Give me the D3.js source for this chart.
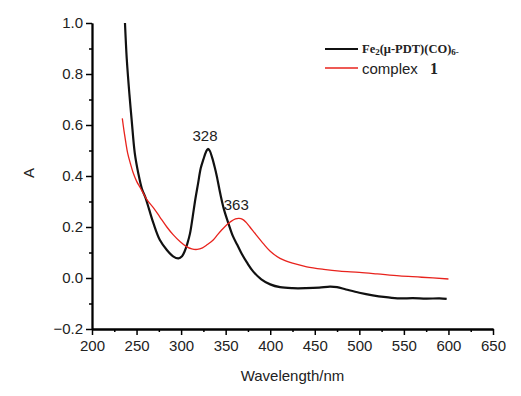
<!DOCTYPE html>
<html>
<head>
<meta charset="utf-8">
<script src="https://cdn.jsdelivr.net/npm/d3@7"></script>
<style>
  html, body { margin: 0; padding: 0; background: #fff; }
  svg { display: block; font-family: "Liberation Sans", Arial, sans-serif; }
</style>
</head>
<body>
<svg id="chart" width="521" height="396"></svg>
<script>
//#region DATA /////////////////////////////////////////////////////////////////

// Fe2(u-PDT)(CO)6 spectrum (black)
const blackWavelengths = [237, 239, 242, 244.5, 248, 252, 256, 260, 264, 269,
  276, 284, 291, 297, 301, 304, 307, 310, 313, 316, 319, 322, 325, 328, 330,
  332, 335, 338, 340, 344, 348, 353, 358, 363, 368, 374, 381, 390, 400, 411,
  425, 440, 455, 467, 475, 485, 500, 515, 530, 545, 560, 575, 590, 598];
const blackAbsorbance = [1.0, 0.86, 0.72, 0.62, 0.49, 0.41, 0.35, 0.315, 0.27,
  0.214, 0.15, 0.11, 0.085, 0.077, 0.085, 0.105, 0.135, 0.175, 0.24, 0.31,
  0.37, 0.43, 0.465, 0.495, 0.506, 0.50, 0.47, 0.43, 0.40, 0.33, 0.27, 0.215,
  0.165, 0.13, 0.095, 0.06, 0.025, -0.005, -0.025, -0.036, -0.040, -0.040,
  -0.038, -0.034, -0.036, -0.045, -0.058, -0.068, -0.075, -0.080, -0.079,
  -0.081, -0.080, -0.082];

// complex 1 spectrum (red)
const redWavelengths = [234, 236, 238, 240, 243, 246, 250, 254, 258, 262, 269,
  276, 284, 291, 299, 306, 312, 318, 324, 329, 336, 341, 346, 351, 356, 361,
  365, 369, 373, 377, 384, 392, 400, 411, 425, 441, 460, 478, 500, 520, 545,
  570, 600];
const redAbsorbance = [0.626, 0.575, 0.53, 0.49, 0.45, 0.415, 0.38, 0.355,
  0.33, 0.305, 0.275, 0.24, 0.20, 0.17, 0.142, 0.123, 0.114, 0.112, 0.118,
  0.13, 0.149, 0.17, 0.19, 0.208, 0.222, 0.232, 0.234, 0.23, 0.218, 0.201,
  0.17, 0.136, 0.105, 0.077, 0.058, 0.044, 0.034, 0.027, 0.022, 0.016, 0.008,
  0.003, -0.004];

// tick labels and annotations
const xTicks = [200, 250, 300, 350, 400, 450, 500, 550, 600, 650];
const yTicks = [-0.2, 0.0, 0.2, 0.4, 0.6, 0.8, 1.0];
const peakLabels = [
  { text: "328", x: 328, y: 0.506 },
  { text: "363", x: 363, y: 0.234 }
];

//#endregion

//#region DRAWING //////////////////////////////////////////////////////////////

const PLOT_LEFT = 92, PLOT_RIGHT = 493, PLOT_TOP = 23, PLOT_BOTTOM = 329;
const MAJOR_TICK = 6, MINOR_TICK = 3;
const LABEL_COLOR = "#222";

const svg = d3.select("#chart");

const xScale = d3.scaleLinear().domain([200, 650]).range([PLOT_LEFT, PLOT_RIGHT]);
const yScale = d3.scaleLinear().domain([-0.2, 1.0]).range([PLOT_BOTTOM, PLOT_TOP]);

drawAxes();
drawSpectrum(blackWavelengths, blackAbsorbance, "#111", 2.2);
drawSpectrum(redWavelengths, redAbsorbance, "#e8231d", 1.3);
drawPeakLabels();
drawLegend();

function drawAxes()
{
  // minor ticks sit halfway between the labelled ones
  let xMinor = d3.range(225, 650, 50);
  let yMinor = d3.range(-0.1, 1.0, 0.2);

  let xAxis = svg.append("g")
      .attr("transform", "translate(0," + PLOT_BOTTOM + ")");
  xAxis.append("g")
      .call(d3.axisBottom(xScale).tickValues(xMinor).tickSize(MINOR_TICK)
                .tickSizeOuter(0).tickFormat(""));
  xAxis.append("g")
      .call(d3.axisBottom(xScale).tickValues(xTicks).tickSize(MAJOR_TICK)
                .tickSizeOuter(0).tickPadding(5));

  let yAxis = svg.append("g")
      .attr("transform", "translate(" + PLOT_LEFT + ",0)");
  yAxis.append("g")
      .call(d3.axisLeft(yScale).tickValues(yMinor).tickSize(MINOR_TICK)
                .tickSizeOuter(0).tickFormat(""));
  yAxis.append("g")
      .call(d3.axisLeft(yScale).tickValues(yTicks).tickSize(MAJOR_TICK)
                .tickSizeOuter(0).tickPadding(3).tickFormat(d3.format(".1f")));

  svg.selectAll(".domain").attr("stroke", "#000").attr("stroke-width", 1.8);
  svg.selectAll(".tick line").attr("stroke", "#000").attr("stroke-width", 1.5);
  svg.selectAll(".tick text")
      .attr("fill", LABEL_COLOR)
      .style("font-size", "15px")
      .style("font-family", "'Liberation Sans', Arial, sans-serif");

  svg.append("text")
      .attr("x", (PLOT_LEFT + PLOT_RIGHT) / 2)
      .attr("y", 381)
      .attr("text-anchor", "middle")
      .attr("fill", LABEL_COLOR)
      .style("font-size", "15px")
      .text("Wavelength/nm");

  svg.append("text")
      .attr("transform", "translate(34,173) rotate(-90)")
      .attr("text-anchor", "middle")
      .attr("fill", LABEL_COLOR)
      .style("font-size", "15px")
      .text("A");
}

function drawSpectrum(xs, ys, color, width)
{
  let points = xs.map((x, i) => [x, ys[i]]);
  let gen = d3.line()
      .x(d => xScale(d[0]))
      .y(d => yScale(d[1]))
      .curve(d3.curveCatmullRom);
  svg.append("path")
      .attr("d", gen(points))
      .attr("fill", "none")
      .attr("stroke", color)
      .attr("stroke-width", width)
      .attr("stroke-linejoin", "round");
}

function drawPeakLabels()
{
  svg.selectAll(".peak")
      .data(peakLabels)
      .enter()
      .append("text")
      .attr("class", "peak")
      .attr("x", d => xScale(d.x) - 1)
      .attr("y", d => yScale(d.y) - 8)
      .attr("text-anchor", "middle")
      .attr("fill", LABEL_COLOR)
      .style("font-size", "15px")
      .text(d => d.text);
}

function drawLegend()
{
  let legend = svg.append("g").attr("transform", "translate(325,49)");

  legend.append("line")
      .attr("x1", 0).attr("x2", 33).attr("y1", 0).attr("y2", 0)
      .attr("stroke", "#111").attr("stroke-width", 2.2);
  let fe = legend.append("text")
      .attr("x", 37).attr("y", 4)
      .attr("fill", "#222")
      .style("font-family", "'Liberation Serif', 'Times New Roman', serif")
      .style("font-weight", "bold")
      .style("font-size", "12.5px");
  fe.append("tspan").text("Fe");
  fe.append("tspan").attr("dy", 2).style("font-size", "9px").text("2");
  fe.append("tspan").attr("dy", -2).text("(\u03bc-PDT)(CO)");
  fe.append("tspan").attr("dy", 2).style("font-size", "9px").text("6-");

  legend.append("line")
      .attr("x1", 0).attr("x2", 33).attr("y1", 19).attr("y2", 19)
      .attr("stroke", "#e8231d").attr("stroke-width", 1.3);
  let cx = legend.append("text")
      .attr("x", 37).attr("y", 25)
      .attr("fill", "#222")
      .style("font-size", "15px");
  cx.append("tspan").text("complex ");
  cx.append("tspan")
      .attr("dx", 8)
      .style("font-family", "'Liberation Serif', 'Times New Roman', serif")
      .style("font-weight", "bold")
      .style("font-size", "16px")
      .text("1");
}

//#endregion
</script>
</body>
</html>
